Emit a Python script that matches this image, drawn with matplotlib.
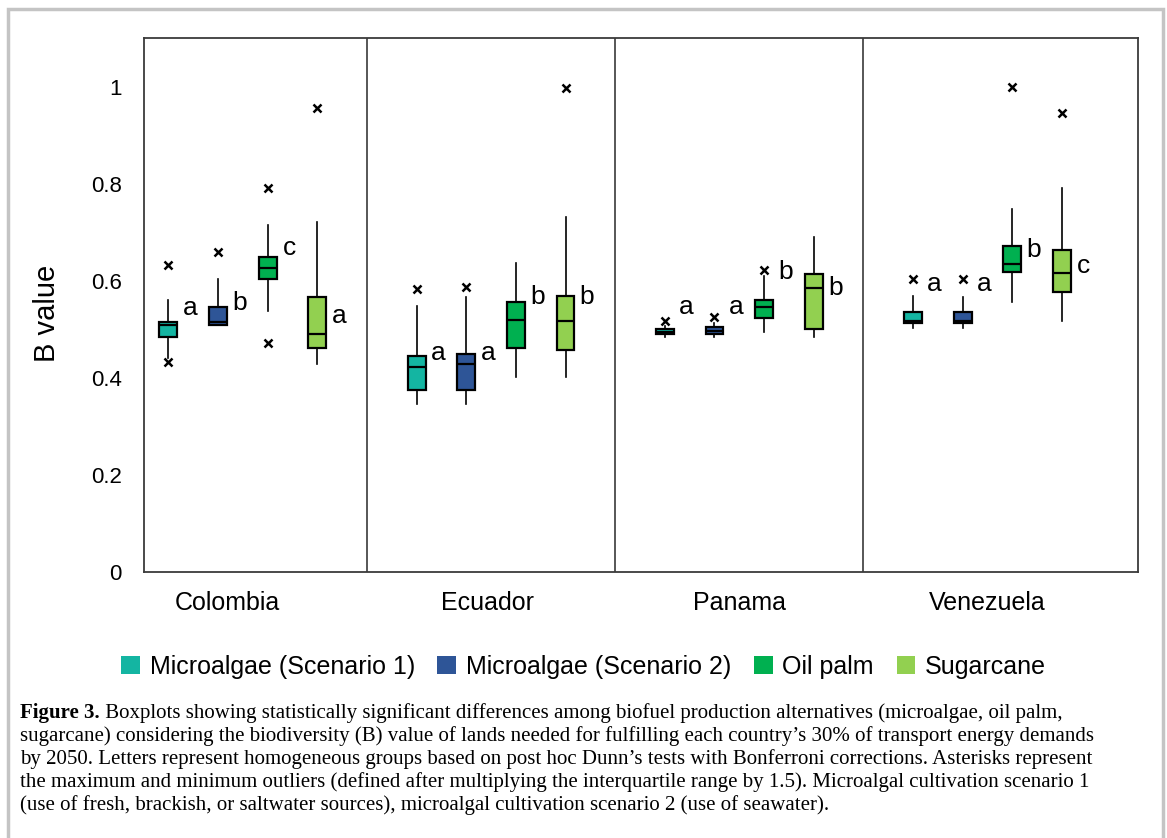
import matplotlib
matplotlib.use("Agg")
import matplotlib.pyplot as plt
import matplotlib.patches as mpatches

plt.rcParams['font.family'] = ['Liberation Sans', 'DejaVu Sans']

# Data
countries = ["Colombia", "Ecuador", "Panama", "Venezuela"]
scenarios = ["Microalgae (Scenario 1)", "Microalgae (Scenario 2)", "Oil palm", "Sugarcane"]
colors = ["#14b5a2", "#2e5597", "#00b050", "#92d050"]

# per country: one value per scenario
whislo = [[0.440, 0.508, 0.537, 0.429],
          [0.346, 0.346, 0.402, 0.402],
          [0.484, 0.484, 0.495, 0.484],
          [0.502, 0.502, 0.556, 0.517]]
q1 = [[0.484, 0.508, 0.604, 0.462],
      [0.374, 0.374, 0.462, 0.458],
      [0.490, 0.491, 0.524, 0.500],
      [0.513, 0.513, 0.618, 0.577]]
med = [[0.508, 0.515, 0.627, 0.491],
       [0.422, 0.428, 0.519, 0.517],
       [0.495, 0.497, 0.546, 0.585],
       [0.517, 0.517, 0.634, 0.615]]
q3 = [[0.515, 0.546, 0.649, 0.566],
      [0.444, 0.450, 0.556, 0.568],
      [0.500, 0.504, 0.560, 0.614],
      [0.535, 0.535, 0.671, 0.664]]
whishi = [[0.560, 0.604, 0.715, 0.720],
          [0.548, 0.566, 0.636, 0.732],
          [0.506, 0.513, 0.609, 0.691],
          [0.568, 0.567, 0.748, 0.790]]
fliers = [[[0.633, 0.432], [0.659], [0.792, 0.472], [0.955]],
          [[0.583], [0.588], [], [0.997]],
          [[0.517], [0.526], [0.622], []],
          [[0.604], [0.604], [1.000], [0.946]]]

letters = [["a", "b", "c", "a"],
           ["a", "a", "b", "b"],
           ["a", "a", "b", "b"],
           ["a", "a", "b", "c"]]
letter_y = [[0.543, 0.554, 0.667, 0.528],
            [0.451, 0.451, 0.566, 0.566],
            [0.546, 0.546, 0.619, 0.585],
            [0.593, 0.593, 0.664, 0.631]]

country_label_x = [-0.064, 0.985, 2.0, 2.997]
yticks = [0, 0.2, 0.4, 0.6, 0.8, 1]
ytick_labels = ["0", "0.2", "0.4", "0.6", "0.8", "1"]

caption_lines = [
    "Boxplots showing statistically significant differences among biofuel production alternatives (microalgae, oil palm,",
    "sugarcane) considering the biodiversity (B) value of lands needed for fulfilling each country\u2019s 30% of transport energy demands",
    "by 2050. Letters represent homogeneous groups based on post hoc Dunn\u2019s tests with Bonferroni corrections. Asterisks represent",
    "the maximum and minimum outliers (defined after multiplying the interquartile range by 1.5). Microalgal cultivation scenario 1",
    "(use of fresh, brackish, or saltwater sources), microalgal cultivation scenario 2 (use of seawater).",
]

offsets = [-0.3, -0.1, 0.1, 0.3]
box_w = 0.072
edge = "#3a3a3a"

fig = plt.figure(figsize=(11.67, 8.38), dpi=100)
ax = fig.add_axes([144 / 1167, 1 - 572 / 838, (1138 - 144) / 1167, (572 - 38) / 838])

for j in range(4):
    stats, pos = [], []
    for i in range(4):
        stats.append(dict(med=med[i][j], q1=q1[i][j], q3=q3[i][j],
                          whislo=whislo[i][j], whishi=whishi[i][j],
                          fliers=fliers[i][j]))
        pos.append(i + offsets[j])
    ax.bxp(stats, positions=pos, widths=box_w, patch_artist=True,
           showcaps=False,
           boxprops=dict(facecolor=colors[j], edgecolor="black", linewidth=1.6),
           medianprops=dict(color="black", linewidth=1.6),
           whiskerprops=dict(color="black", linewidth=1.2),
           flierprops=dict(marker="x", markersize=6, markeredgecolor="black",
                           markeredgewidth=1.8, linestyle="none"))
    for i in range(4):
        ax.text(i + offsets[j] + 0.087, letter_y[i][j], letters[i][j],
                fontsize=19, ha="center", va="center")

for xs in [0.5, 1.5, 2.5]:
    ax.axvline(xs, color=edge, linewidth=1.2)

ax.set_xlim(-0.398, 3.606)
ax.set_ylim(0, 1.1)
ax.set_yticks(yticks)
ax.set_yticklabels(ytick_labels, fontsize=16)
ax.set_xticks(country_label_x)
ax.set_xticklabels(countries, fontsize=18)
ax.tick_params(axis="y", length=0, pad=16)
ax.tick_params(axis="x", length=0, pad=14)
ax.set_ylabel("B value", fontsize=21)
ax.yaxis.set_label_coords(-0.083, 0.485)
for s in ax.spines.values():
    s.set_color(edge)
    s.set_linewidth(1.3)

handles = [mpatches.Patch(facecolor=c, edgecolor="none") for c in colors]
fig.legend(handles, scenarios, loc="center", bbox_to_anchor=(0.5, 1 - 667 / 838),
           ncol=4, frameon=False, fontsize=18, handlelength=0.75, handleheight=0.75,
           handletextpad=0.4, columnspacing=0.9)

# caption
cap_font = ["Liberation Serif", "DejaVu Serif"]
cap_size = 15
line_y = [713, 736, 759, 782, 805]
t0 = fig.text(20 / 1167, 1 - line_y[0] / 838, "Figure 3.", fontsize=cap_size,
              fontweight="bold", family=cap_font, va="center")
ax.annotate(" " + caption_lines[0], xy=(1, 0), xycoords=t0, fontsize=cap_size,
            family=cap_font, va="bottom", ha="left", annotation_clip=False)
for k in range(1, 5):
    fig.text(20 / 1167, 1 - line_y[k] / 838, caption_lines[k], fontsize=cap_size,
             family=cap_font, va="center")

frame = mpatches.Rectangle((8 / 1167, -0.02), (1163 - 8) / 1167, 1.02 - 9 / 838,
                           transform=fig.transFigure, fill=False,
                           edgecolor="#c4c4c4", linewidth=2.5, clip_on=False)
fig.patches.append(frame)

fig.savefig("out.png", dpi=100)
